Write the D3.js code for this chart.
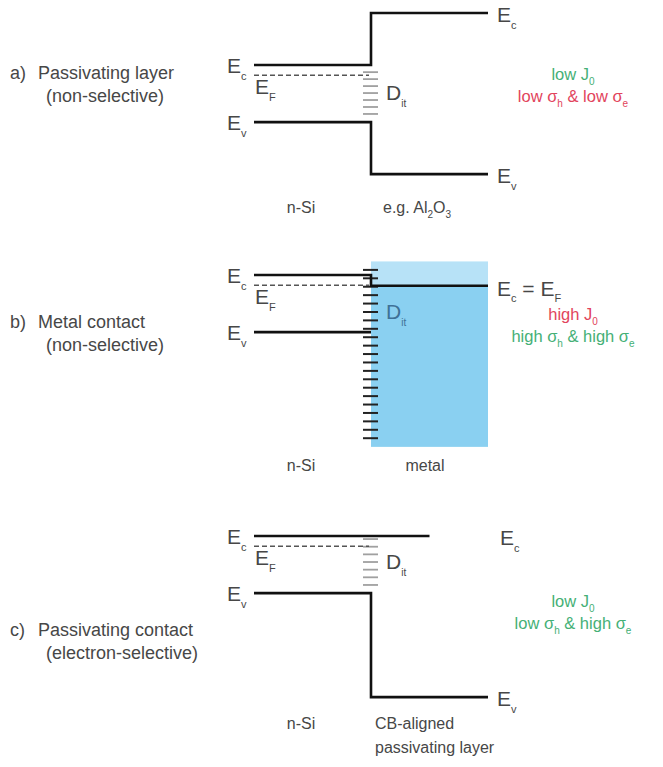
<!DOCTYPE html>
<html>
<head>
<meta charset="utf-8">
<script src="https://cdn.jsdelivr.net/npm/d3@7/dist/d3.min.js"></script>
<style>
  html, body { margin: 0; padding: 0; background: #fff; }
  svg { display: block; font-family: "Liberation Sans", Arial, sans-serif; }
</style>
</head>
<body>
<svg id="chart" width="663" height="767"></svg>
<script>
// Band alignment at three kinds of n-Si surfaces (energies in eV, Si conduction band = 0)
const panelIds      = ["a)", "b)", "c)"];
const panelTitles   = ["Passivating layer", "Metal contact", "Passivating contact"];
const panelSubs     = ["(non-selective)", "(non-selective)", "(electron-selective)"];
const siLabels      = ["n-Si", "n-Si", "n-Si"];
const layerLabels   = [["e.g. Al_2O_3"], ["metal"], ["CB-aligned", "passivating layer"]];

// silicon side
const siEc = 0.0, siEF = -0.2, siEv = -1.12;
// layer side: conduction band (or metal Fermi level), valence band
const layerEc    = [1.02, -0.21, 0.0];
const layerEv    = [-2.14, null, -3.16];
const layerEcEnd = [1.0, 1.0, 0.5];          // lateral extent of the layer Ec line
const metalTop   = [null, 0.26, null];
const metalBot   = [null, -3.37, null];
// interface defect states D_it
const ditTop     = [-0.14, 0.1, -0.06];
const ditBottom  = [-0.96, -3.2, -0.96];
const ditCount   = [7, 21, 7];
// right-hand energy labels
const rightEcLabel = ["E_c", "E_c = E_F", "E_c"];
const rightEvLabel = ["E_v", null, "E_v"];
// recombination / selectivity summary
const j0Level     = ["low", "high", "low"];
const sigmaH      = ["low", "high", "low"];
const sigmaE      = ["low", "high", "high"];
const j0Good      = [true, false, true];
const sigmaGood   = [false, true, true];

const green = "#45b076", red = "#e2445c", ink = "#474747";

const svg = d3.select("#chart");

// layout of each panel
const originY   = [65, 275, 536];        // pixel row of the Si conduction band
const titleY    = [79, 328, 636];
const sideY     = [80, 320, 607];
const bottomY   = [213, 471, 729];
const pxPerEV   = 51;
const x = d3.scaleLinear().domain([-1, 0, 1]).range([254, 371, 488]);

// text with _x or _{xy} subscripts
function richText(sel, str, size, subSize) {
  const parts = [];
  const re = /_(\{[^}]*\}|.)/g;
  let last = 0, m;
  while ((m = re.exec(str)) !== null) {
    if (m.index > last) parts.push({ t: str.slice(last, m.index), sub: false });
    let s = m[1];
    if (s[0] === "{") s = s.slice(1, -1);
    parts.push({ t: s, sub: true });
    last = re.lastIndex;
  }
  if (last < str.length) parts.push({ t: str.slice(last), sub: false });
  let prevSub = false;
  parts.forEach(p => {
    const ts = sel.append("tspan").text(p.t);
    if (p.sub && !prevSub) ts.attr("dy", size * 0.32).attr("font-size", subSize);
    else if (!p.sub && prevSub) ts.attr("dy", -size * 0.32).attr("font-size", size);
    else ts.attr("font-size", p.sub ? subSize : size);
    prevSub = p.sub;
  });
  return sel;
}

panelIds.forEach((id, i) => {
  const y = d3.scaleLinear().domain([0, -1]).range([originY[i], originY[i] + pxPerEV]);
  const g = svg.append("g");

  // metal block
  if (metalTop[i] !== null) {
    g.append("rect")
      .attr("x", x(0)).attr("y", y(metalTop[i]))
      .attr("width", x(1) - x(0)).attr("height", y(metalBot[i]) - y(metalTop[i]))
      .attr("fill", "#8ad0f1");
    g.append("rect")
      .attr("x", x(0)).attr("y", y(metalTop[i]))
      .attr("width", x(1) - x(0)).attr("height", y(layerEc[i]) - y(metalTop[i]))
      .attr("fill", "#b7e2f7");
  }

  // interface states
  const ditLevels = d3.range(ditCount[i]).map(k => ditTop[i] + (ditBottom[i] - ditTop[i]) * k / (ditCount[i] - 1));
  g.selectAll("line.dit").data(ditLevels).join("line")
    .attr("x1", x(0) - 8).attr("x2", x(0) + 7)
    .attr("y1", d => y(d)).attr("y2", d => y(d))
    .attr("stroke", i === 1 ? "#222" : "#a0a0a0")
    .attr("stroke-width", i === 1 ? 2 : 1.8);

  // Fermi level in Si
  g.append("line")
    .attr("x1", x(-1)).attr("x2", x(0) - 2)
    .attr("y1", y(siEF)).attr("y2", y(siEF))
    .attr("stroke", "#555").attr("stroke-width", 1.4)
    .attr("stroke-dasharray", "5,3");

  const line = d3.line().x(d => x(d[0])).y(d => y(d[1]));
  const band = (pts) => g.append("path").attr("d", line(pts))
    .attr("fill", "none").attr("stroke", "#111").attr("stroke-width", 2.6);

  // conduction band
  band([[-1, siEc], [0, siEc], [0, layerEc[i]], [layerEcEnd[i], layerEc[i]]]);
  // valence band
  if (layerEv[i] !== null) band([[-1, siEv], [0, siEv], [0, layerEv[i]], [1, layerEv[i]]]);
  else band([[-1, siEv], [0, siEv]]);

  // left energy labels
  richText(g.append("text").attr("x", 227).attr("y", y(siEc) + 8).attr("fill", ink), "E_c", 21, 11);
  richText(g.append("text").attr("x", 255).attr("y", y(siEF) + 19).attr("fill", ink), "E_F", 21, 11);
  richText(g.append("text").attr("x", 227).attr("y", y(siEv) + 8).attr("fill", ink), "E_v", 21, 11);
  richText(g.append("text").attr("x", x(0) + 15).attr("y", y(ditLevels[ditCount[i] === 7 ? 3 : 5]) + 7)
    .attr("fill", i === 1 ? "#3f7197" : ink), "D_{it}", 21, 10);

  // right energy labels
  richText(g.append("text").attr("x", x(1) + 9 + (i === 2 ? 3 : 0)).attr("y", y(layerEc[i]) + (i === 1 ? 10 : 9)).attr("fill", ink),
    rightEcLabel[i], 21, 11);
  if (rightEvLabel[i]) {
    richText(g.append("text").attr("x", x(1) + 9).attr("y", y(layerEv[i]) + 9).attr("fill", ink), rightEvLabel[i], 21, 11);
  }

  // panel titles
  g.append("text").attr("x", 10).attr("y", titleY[i]).attr("fill", ink).attr("font-size", 18).text(id);
  g.append("text").attr("x", 38).attr("y", titleY[i]).attr("fill", ink).attr("font-size", 18).text(panelTitles[i]);
  g.append("text").attr("x", 46).attr("y", titleY[i] + 23).attr("fill", ink).attr("font-size", 18).text(panelSubs[i]);

  // region labels
  g.append("text").attr("x", 301).attr("y", bottomY[i]).attr("text-anchor", "middle")
    .attr("fill", ink).attr("font-size", 16).text(siLabels[i]);
  layerLabels[i].forEach((s, k) => {
    const t = g.append("text").attr("y", bottomY[i] + k * 24).attr("fill", ink)
      .attr("x", layerLabels[i].length > 1 ? 375 : (i === 1 ? 425 : 383))
      .attr("text-anchor", layerLabels[i].length === 1 && i === 1 ? "middle" : "start");
    richText(t, s, 16, 10);
  });

  // summary
  const j0Text = g.append("text").attr("x", 573).attr("y", sideY[i]).attr("text-anchor", "middle")
    .attr("fill", j0Good[i] ? green : red);
  richText(j0Text, j0Level[i] + " J_0", 16.5, 10);
  const sTxt = g.append("text").attr("x", 573).attr("y", sideY[i] + 22).attr("text-anchor", "middle")
    .attr("fill", sigmaGood[i] ? green : red);
  richText(sTxt, sigmaH[i] + " σ_h & " + sigmaE[i] + " σ_e", 16.5, 10);
});
</script>
</body>
</html>
